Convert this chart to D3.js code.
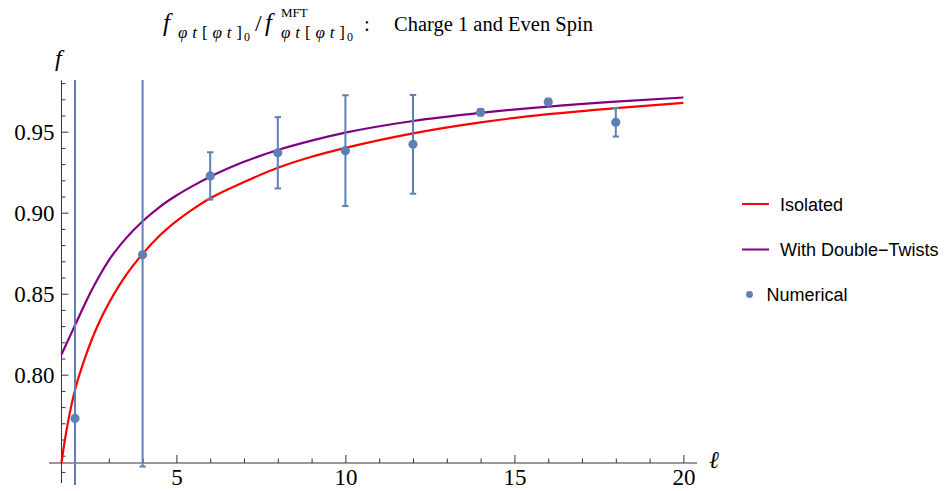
<!DOCTYPE html>
<html>
<head>
<meta charset="utf-8">
<script src="https://cdn.jsdelivr.net/npm/d3@7"></script>
<style>
  body { margin: 0; background: #fff; }
  svg { display: block; }
  .serif { font-family: "Liberation Serif", "Times New Roman", serif; }
  .sans { font-family: "Liberation Sans", Arial, sans-serif; }
</style>
</head>
<body>
<svg id="chart" width="947" height="491"></svg>
<script>
// Numerical bootstrap results: spin, central value, error
const spins = [2, 4, 6, 8, 10, 12, 14, 16, 18];
const numerical = [0.773, 0.874, 0.9227, 0.937, 0.9383, 0.9422, 0.962, 0.9683, 0.9558];
const numericalErr = [0.25, 0.1307, 0.0146, 0.022, 0.0342, 0.0305, 0.002, 0.002, 0.0088];

// Isolated prediction, sampled in spin
const isolatedL = [1.6, 1.7, 1.8, 1.9, 2, 2.25, 2.5, 2.75, 3, 3.25, 3.5, 4, 4.5, 5, 5.5, 6, 7, 8, 9, 10, 12, 14, 16, 18, 20];
const isolatedF = [0.7455, 0.7597, 0.7715, 0.7817, 0.7906, 0.8076, 0.8219, 0.8339, 0.8441, 0.8531, 0.8611, 0.8746, 0.8858, 0.8948, 0.9024, 0.9089, 0.9189, 0.9277, 0.9345, 0.940, 0.949, 0.9558, 0.9608, 0.9646, 0.9678];

// Prediction including double-twist operators
const twistsL = [1.6, 1.8, 2, 2.25, 2.5, 2.75, 3, 3.5, 4, 4.5, 5, 5.5, 6, 7, 8, 9, 10, 12, 14, 16, 18, 20];
const twistsF = [0.8125, 0.8215, 0.8305, 0.8418, 0.8524, 0.862, 0.8706, 0.884, 0.8947, 0.9035, 0.9106, 0.9167, 0.9222, 0.9314, 0.9387, 0.9445, 0.9494, 0.9566, 0.9616, 0.9655, 0.9686, 0.9711];

const xMajorTicks = [5, 10, 15, 20];
const xMinorTicks = [2, 3, 4, 6, 7, 8, 9, 11, 12, 13, 14, 16, 17, 18, 19];
const yMajorTicks = [0.80, 0.85, 0.90, 0.95];
const yMinorTicks = [0.74, 0.75, 0.76, 0.77, 0.78, 0.79, 0.81, 0.82, 0.83, 0.84, 0.86, 0.87, 0.88, 0.89, 0.91, 0.92, 0.93, 0.94, 0.96, 0.97, 0.98];

const seriesNames = ["Isolated", "With Double\u2212Twists", "Numerical"];
const colors = { isolated: "#ff0000", twists: "#800080", points: "#5e81b5", axis: "#333333" };

const svg = d3.select("#chart");

// Scales
const x = d3.scaleLinear().domain([0, 20]).range([7.4, 683.4]);
const y = d3.scaleLinear().domain([0.75, 0.95]).range([455.7, 131.7]);
const origin = { l: 1.6, f: 0.7455 };
const ox = x(origin.l), oy = y(origin.f);

// Clipping region of the plot
svg.append("clipPath").attr("id", "plotClip")
  .append("rect").attr("x", 49).attr("y", 80).attr("width", 650).attr("height", 405);

// Axes
const axisG = svg.append("g").attr("class", "axes");

// x axis
axisG.append("line")
  .attr("x1", 49).attr("x2", 697).attr("y1", oy).attr("y2", oy)
  .attr("stroke", colors.axis).attr("stroke-width", 1);
const gx = axisG.append("g").attr("transform", `translate(0,${oy})`);
gx.call(d3.axisBottom(x).tickValues(xMajorTicks).tickSize(-8).tickSizeOuter(0).tickPadding(6).tickFormat(d3.format("d")));
gx.append("g").call(d3.axisBottom(x).tickValues(xMinorTicks).tickSize(-4.5).tickSizeOuter(0).tickFormat(""));
gx.selectAll(".domain").remove();
gx.selectAll("line").attr("stroke", colors.axis);
gx.selectAll("text").attr("class", "serif").attr("font-size", 23).attr("fill", "#000")
  .attr("font-family", null);

// y axis
axisG.append("line")
  .attr("x1", ox).attr("x2", ox).attr("y1", 80.5).attr("y2", 483)
  .attr("stroke", colors.axis).attr("stroke-width", 1);
const gy = axisG.append("g").attr("transform", `translate(${ox},0)`);
gy.call(d3.axisLeft(y).tickValues(yMajorTicks).tickSize(-7).tickSizeOuter(0).tickPadding(7).tickFormat(d3.format(".2f")));
gy.append("g").call(d3.axisLeft(y).tickValues(yMinorTicks).tickSize(-4).tickSizeOuter(0).tickFormat(""));
gy.selectAll(".domain").remove();
gy.selectAll("line").attr("stroke", colors.axis);
gy.selectAll("text").attr("class", "serif").attr("font-size", 23).attr("fill", "#000")
  .attr("font-family", null);

// Axis labels
svg.append("text").attr("class", "serif").attr("x", 55).attr("y", 66)
  .attr("font-size", 24).attr("font-style", "italic").text("f");
svg.append("text").attr("class", "serif").attr("x", 709).attr("y", 468)
  .attr("font-size", 24).attr("font-style", "italic").text("\u2113");

// Curves
const plot = svg.append("g").attr("clip-path", "url(#plotClip)");
const line = d3.line().x(d => x(d[0])).y(d => y(d[1])).curve(d3.curveMonotoneX);

plot.append("path")
  .datum(isolatedL.map((l, i) => [l, isolatedF[i]]))
  .attr("d", line).attr("fill", "none")
  .attr("stroke", colors.isolated).attr("stroke-width", 2.2);

plot.append("path")
  .datum(twistsL.map((l, i) => [l, twistsF[i]]))
  .attr("d", line).attr("fill", "none")
  .attr("stroke", colors.twists).attr("stroke-width", 2.2);

// Numerical points with error bars
const pts = spins.map((l, i) => ({ l, f: numerical[i], e: numericalErr[i] }));
const capW = 3.2;
const bars = plot.append("g").attr("stroke", colors.points).attr("stroke-width", 2);
bars.selectAll("line.bar").data(pts).join("line").attr("class", "bar")
  .attr("x1", d => x(d.l)).attr("x2", d => x(d.l))
  .attr("y1", d => y(d.f + d.e)).attr("y2", d => y(d.f - d.e));
bars.selectAll("line.capHi").data(pts).join("line").attr("class", "capHi")
  .attr("x1", d => x(d.l) - capW).attr("x2", d => x(d.l) + capW)
  .attr("y1", d => y(d.f + d.e)).attr("y2", d => y(d.f + d.e));
bars.selectAll("line.capLo").data(pts).join("line").attr("class", "capLo")
  .attr("x1", d => x(d.l) - capW).attr("x2", d => x(d.l) + capW)
  .attr("y1", d => y(d.f - d.e)).attr("y2", d => y(d.f - d.e));
plot.append("g").selectAll("circle").data(pts).join("circle")
  .attr("cx", d => x(d.l)).attr("cy", d => y(d.f)).attr("r", 4.6)
  .attr("fill", colors.points);

// Legend
const legend = svg.append("g").attr("class", "sans").attr("font-size", 18);
legend.append("line").attr("x1", 742).attr("x2", 769).attr("y1", 204).attr("y2", 204)
  .attr("stroke", colors.isolated).attr("stroke-width", 2);
legend.append("text").attr("x", 780).attr("y", 210.5).text(seriesNames[0]);
legend.append("line").attr("x1", 742).attr("x2", 769).attr("y1", 249.5).attr("y2", 249.5)
  .attr("stroke", colors.twists).attr("stroke-width", 2);
legend.append("text").attr("x", 780).attr("y", 256).text(seriesNames[1]);
legend.append("circle").attr("cx", 749.5).attr("cy", 294.5).attr("r", 3.4).attr("fill", colors.points);
legend.append("text").attr("x", 766.5).attr("y", 300.5).text(seriesNames[2]);

// Title: f_{φt[φt]0} / f^{MFT}_{φt[φt]0} : Charge 1 and Even Spin
const title = svg.append("g").attr("class", "serif").attr("fill", "#000");
const base = 31;
function word(txt, xPos, size, dy, italic) {
  return title.append("text").attr("x", xPos).attr("y", base + dy)
    .attr("font-size", size).attr("font-style", italic ? "italic" : "normal").text(txt);
}
function operatorSubscript(xPos) {
  const t = title.append("text").attr("x", xPos).attr("y", base + 7).attr("font-size", 17)
    .attr("textLength", 64).attr("lengthAdjust", "spacing");
  t.append("tspan").attr("font-style", "italic").text("\u03c6t");
  t.append("tspan").text("[");
  t.append("tspan").attr("font-style", "italic").text("\u03c6t");
  t.append("tspan").text("]");
  word("0", xPos + 66, 12, 10, false);
}
word("f", 163, 25, 0, true);
operatorSubscript(178);
word("/", 255, 24, 0, false);
word("f", 265, 25, 0, true);
word("MFT", 281, 13, -14, false);
operatorSubscript(281);
word(":", 364, 21, 0, false);
word("Charge 1 and Even Spin", 394, 20.5, 0, false);
</script>
</body>
</html>
